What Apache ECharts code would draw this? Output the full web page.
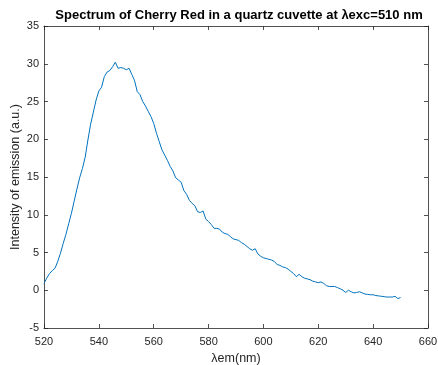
<!DOCTYPE html>
<html><head><meta charset="utf-8">
<script src="https://cdn.jsdelivr.net/npm/echarts@6/dist/echarts.min.js"></script>
<style>html,body{margin:0;padding:0;background:#fff}#c{width:438px;height:365px}</style>
</head><body><div id="c"></div>
<script>
const wavelengths = [];
for (let w = 520; w <= 650; w++) wavelengths.push(w);
const intensity = [
0.9,1.6,2.2,2.6,2.9,3.8,4.9,6.2,7.4,8.8,
10.2,11.8,13.4,14.9,16.1,17.6,19.9,22.0,23.6,25.2,
26.4,26.9,28.3,28.9,29.1,29.6,30.2,29.4,29.5,29.4,
29.2,29.4,28.6,27.8,26.3,25.9,25.0,24.4,23.7,23.0,
22.1,20.8,19.7,18.6,17.9,17.2,16.4,15.8,14.9,14.6,
14.3,13.2,12.7,11.9,11.5,11.2,10.4,10.3,10.5,9.4,
9.1,8.7,8.2,8.2,8.1,7.7,7.5,7.4,7.1,6.8,
6.7,6.6,6.3,6.1,5.8,5.5,5.3,5.5,4.8,4.5,
4.3,4.2,4.1,4.0,3.8,3.4,3.3,3.1,3.0,2.8,
2.5,2.2,1.8,2.1,1.8,1.6,1.5,1.4,1.2,1.1,
1.0,1.1,0.9,0.6,0.5,0.5,0.5,0.35,0.2,0.0,
-0.3,0.0,-0.2,-0.35,-0.3,-0.2,-0.35,-0.5,-0.55,-0.6,
-0.6,-0.7,-0.75,-0.8,-0.85,-0.9,-0.9,-0.9,-0.8,-1.1,
-0.97];
const titleText = 'Spectrum of Cherry Red in a quartz cuvette at \u03bbexc=510 nm';
const xName = '\u03bbem(nm)';
const yName = 'Intensity of emission (a.u.)';

const axisCol = '#262626';
const font = 'Liberation Sans, Arial, sans-serif';
const chart = echarts.init(document.getElementById('c'), null, {renderer: 'canvas'});
const baseAxis = {
  axisLine: {show: true, onZero: false, lineStyle: {color: axisCol, width: 0.8}},
  axisTick: {show: true, inside: true, length: 4, lineStyle: {color: axisCol, width: 0.8}},
  splitLine: {show: false}
};
chart.setOption({
  animation: false,
  title: {text: titleText, left: 234, top: 4, textAlign: 'center',
    textStyle: {fontFamily: font, fontSize: 13, fontWeight: 'bold', color: '#000'}},
  grid: {left: 44, right: 10, top: 26, bottom: 37, containLabel: false, outerBoundsMode: 'none'},
  xAxis: [
    Object.assign({}, baseAxis, {type: 'value', min: 520, max: 660, interval: 20, position: 'bottom',
      name: xName, nameLocation: 'middle', nameGap: 22,
      nameTextStyle: {fontFamily: font, fontSize: 12.5, color: axisCol},
      axisLabel: {fontFamily: font, fontSize: 11, color: axisCol, margin: 8}}),
    Object.assign({}, baseAxis, {type: 'value', min: 520, max: 660, interval: 20, position: 'top',
      axisLabel: {show: false}})
  ],
  yAxis: [
    Object.assign({}, baseAxis, {type: 'value', min: -5, max: 35, interval: 5, position: 'left',
      name: yName, nameLocation: 'middle', nameGap: 22, nameRotate: 90,
      nameMoveOverlap: false,
      nameTextStyle: {fontFamily: font, fontSize: 12.5, color: axisCol},
      axisLabel: {fontFamily: font, fontSize: 11, color: axisCol, margin: 5}}),
    Object.assign({}, baseAxis, {type: 'value', min: -5, max: 35, interval: 5, position: 'right',
      axisLabel: {show: false}})
  ],
  series: [{
    type: 'line', xAxisIndex: 0, yAxisIndex: 0,
    data: wavelengths.map((w, i) => [w, intensity[i]]),
    showSymbol: false, symbol: 'none',
    lineStyle: {color: '#0072BD', width: 1}
  }]
});
</script></body></html>
